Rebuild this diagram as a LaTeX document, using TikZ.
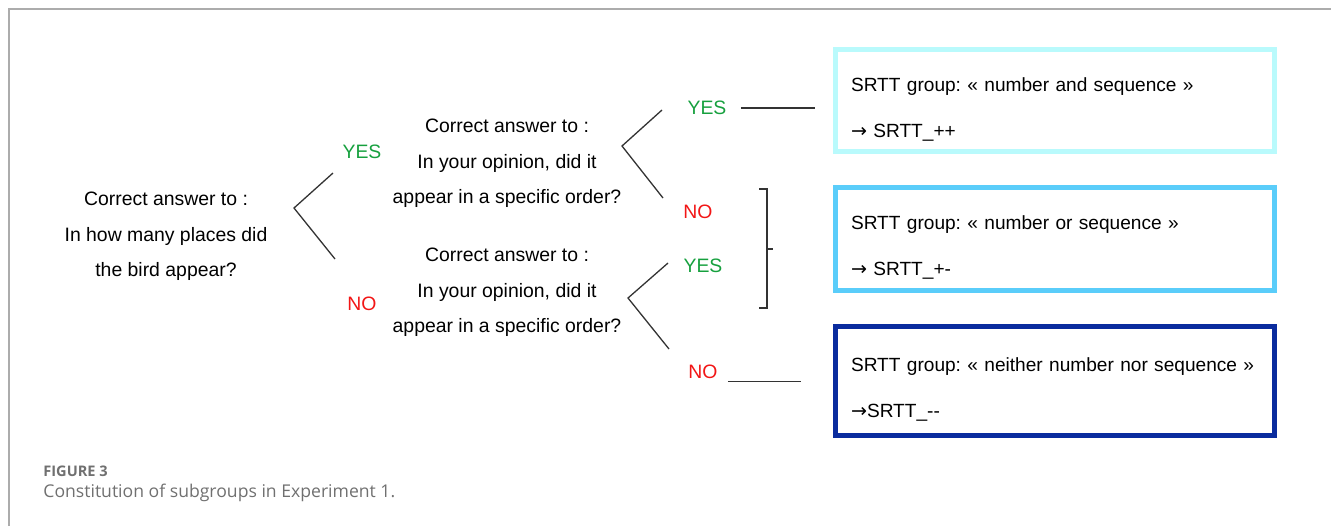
\documentclass[tikz,border=0pt]{standalone}
\usepackage{fontspec}
\setmainfont{Liberation Sans}
\newfontfamily\capfont{Open Sans}
\newfontfamily\arrowfont{DejaVu Sans}
\newcommand{\toarrow}{{\arrowfont →}}
\frenchspacing
\definecolor{yesgreen}{RGB}{22,160,62}
\definecolor{nored}{RGB}{242,22,22}
\definecolor{boxcyan}{RGB}{185,250,252}
\definecolor{boxblue}{RGB}{90,205,250}
\definecolor{boxnavy}{RGB}{10,44,158}
\definecolor{framegray}{RGB}{172,172,172}
\definecolor{capgray}{RGB}{112,112,112}
\tikzset{
question/.style={align=center, inner sep=0pt, font=\fontsize{9.7}{17.75}\selectfont}, % the two-level questions
yes/.style={text=yesgreen, inner sep=0pt, font=\fontsize{9.7}{12}\selectfont},
no/.style={text=nored, inner sep=0pt, font=\fontsize{9.7}{12}\selectfont},
branch/.style={draw=black!80, line width=0.65pt}, % the < shaped forks
group/.style={rectangle, draw, line width=2.5pt, minimum width=219.5pt, text width=204pt,
  inner xsep=7.75pt, align=left, text height=7.1pt, text depth=16.6pt,
  font=\fontsize{9.55}{23}\selectfont}, % result boxes
}
\begin{document}
\begin{tikzpicture}[x=0.5pt, y=-0.5pt]
\useasboundingbox (0,0) rectangle (1331,526);
% frame of the figure
\draw[framegray, line width=1pt] (9,526) -- (9,9) -- (1331,9);

% first question
\node[question] (q1) at (166,236.5) {Correct answer to :\\In how many places did\\the bird appear?};
\node[yes] (yes1) at (362,152) {YES};
\node[no] (no1) at (362,304) {NO};
\coordinate (v1) at (294,208);
\coordinate (t1) at (333,173);
\coordinate (b1) at (335,259);
\draw[branch] (t1) -- (v1) -- (b1);

% second questions
\node[question] (q2) at (507,163.5) {Correct answer to :\\In your opinion, did it\\appear in a specific order?};
\node[question] (q3) at (507,292.5) {Correct answer to :\\In your opinion, did it\\appear in a specific order?};
\node[yes] (yes2) at (707,108) {YES};
\node[no] (no2) at (698,212) {NO};
\node[yes] (yes3) at (703,266) {YES};
\node[no] (no3) at (703,372) {NO};
\coordinate (v2) at (622,146);
\coordinate (t2) at (662,110);
\coordinate (b2) at (663,198);
\draw[branch] (t2) -- (v2) -- (b2);
\coordinate (v3) at (628,298);
\coordinate (t3) at (668,263);
\coordinate (b3) at (669,349);
\draw[branch] (t3) -- (v3) -- (b3);

% groups
\node[group, draw=boxcyan, minimum height=51pt] (g1) at (1055,100.5) {\mbox{SRTT group: « number and sequence »}\\\toarrow{} SRTT\_++};
\node[group, draw=boxblue, minimum height=51.5pt] (g2) at (1055,238.5) {\mbox{SRTT group: « number or sequence »}\\\toarrow{} SRTT\_+-};
\node[group, draw=boxnavy, minimum height=54.75pt] (g3) at (1055,380.75) {\mbox{SRTT group: « neither number nor sequence »}\\\toarrow SRTT\_-{}-};

\draw[branch] ([xshift=7pt]yes2.east) -- ([xshift=-9pt]yes2.east -| g1.west);
\draw[branch] ([xshift=5pt,yshift=-1pt]no3.south east) -- ([xshift=-16pt,yshift=-1pt]no3.south east -| g3.west);
% bracket joining NO and YES
\coordinate (k1) at (759,189);
\coordinate (k2) at (767,189);
\coordinate (k3) at (767,308);
\coordinate (k4) at (759,308);
\coordinate (km) at (767,249);
\draw[branch] (k1) -- (k2) -- (k3) -- (k4);
\draw[branch] (km) -- ++(6,0);

% caption
\node[anchor=base west, inner sep=0pt, text=capgray, font=\capfont\bfseries\fontsize{7.3}{9}\selectfont] (fig) at (43,476) {FIGURE 3};
\node[anchor=base west, inner sep=0pt, text=capgray, font=\capfont\fontsize{8.8}{11}\selectfont] (cap) at (43,497) {Constitution of subgroups in Experiment 1.};
\end{tikzpicture}
\end{document}
